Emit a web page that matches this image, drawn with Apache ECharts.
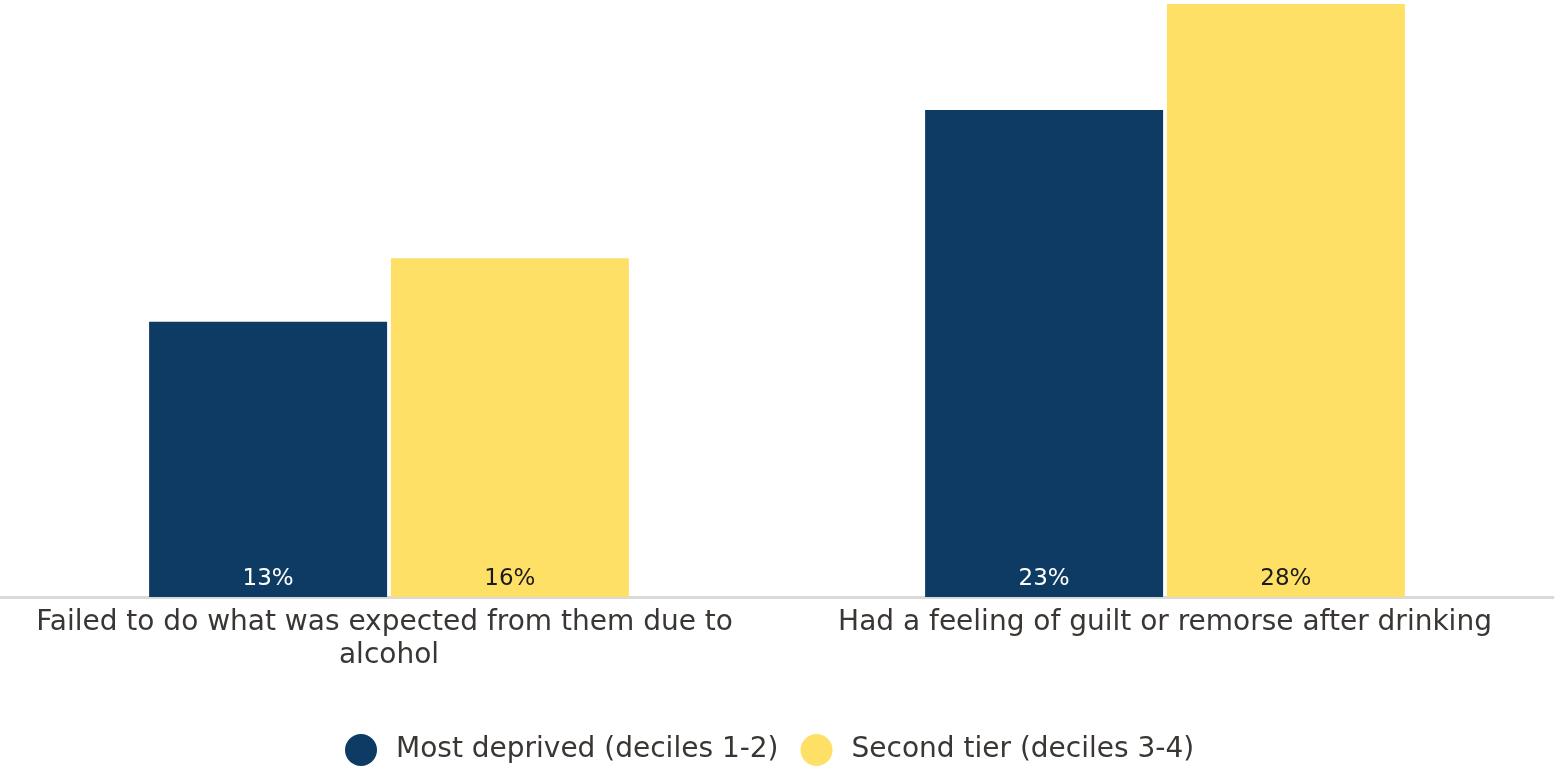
<!DOCTYPE html>
<html><head><meta charset="utf-8">
<script src="https://cdn.jsdelivr.net/npm/echarts@6/dist/echarts.min.js"></script>
<style>html,body{margin:0;padding:0;background:#fff}#c{width:1556px;height:768px}</style>
</head><body><div id="c"></div>
<script>
const categories = ["Failed to do what was expected from them due to alcohol", "Had a feeling of guilt or remorse after drinking"];
const seriesNames = ["Most deprived (deciles 1-2)", "Second tier (deciles 3-4)"];
const mostDeprived = [13, 23];
const secondTier = [16, 28];
const colors = ["#0E3B63", "#FFE066"];
const labelColors = ["#ffffff", "#1a1a1a"];
const FONT = "'DejaVu Sans', 'Noto Sans', sans-serif";

const chart = echarts.init(document.getElementById('c'));
const mk = (name, data, i) => ({
  name, type: 'bar', data,
  barWidth: 238, barGap: '1.6%',
  itemStyle: { color: colors[i] },
  label: { show: true, position: 'insideBottom', distance: 6, formatter: '{c}%', color: labelColors[i], fontSize: 23, fontFamily: FONT },
  emphasis: { disabled: true }
});
chart.setOption({
  animation: false,
  grid: { left: 1, right: 3, top: 4, bottom: 171, containLabel: false },
  legend: {
    bottom: 2, left: 345, padding: 0, icon: 'circle', itemWidth: 32, itemHeight: 32, itemGap: 22,
    textStyle: { fontSize: 28, color: '#3a3633', fontFamily: FONT, padding: [0, 0, 0, 14] },
    data: seriesNames
  },
  xAxis: {
    type: 'category', data: categories,
    axisLine: { lineStyle: { color: '#d9d9d9', width: 3 } },
    axisTick: { show: false },
    axisLabel: { fontSize: 28, color: '#3a3633', fontFamily: FONT, margin: 9, width: 770, overflow: 'break', lineHeight: 33, interval: 0 }
  },
  yAxis: { type: 'value', min: 0, max: 28, show: false, splitLine: { show: false } },
  series: [mk(seriesNames[0], mostDeprived, 0), mk(seriesNames[1], secondTier, 1)]
});
</script></body></html>
